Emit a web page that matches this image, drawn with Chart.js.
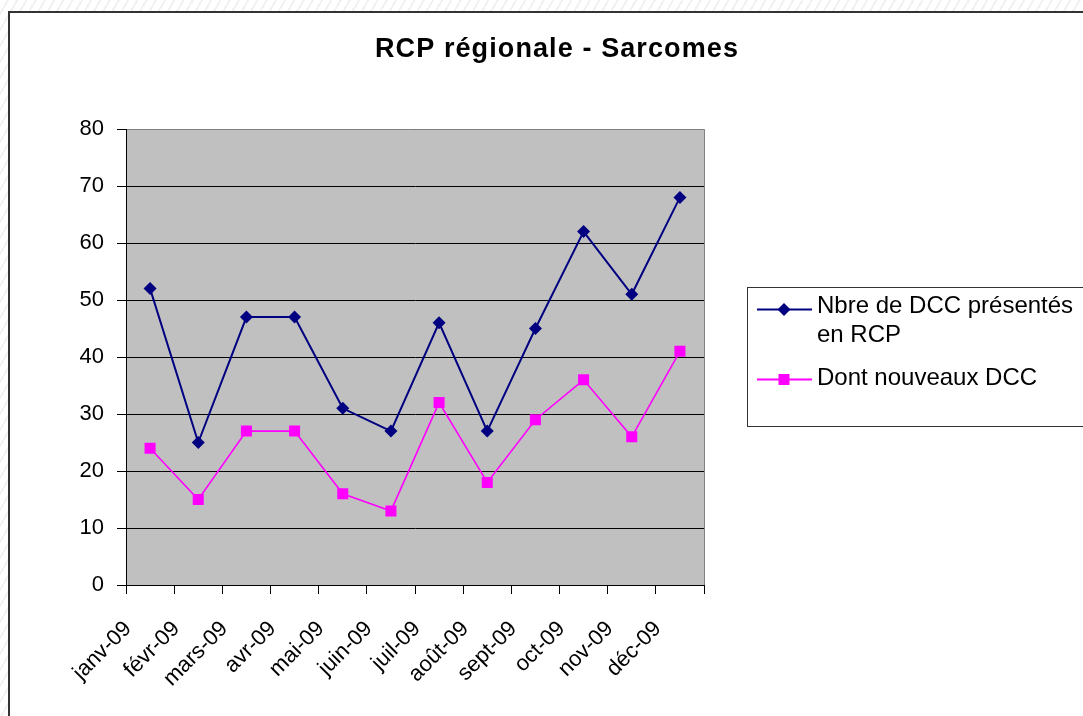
<!DOCTYPE html>
<html>
<head>
<meta charset="utf-8">
<script src="https://cdn.jsdelivr.net/npm/chart.js@4/dist/chart.umd.min.js"></script>
<style>
    body {
        margin: 0;
        background: repeating-linear-gradient(120deg, #ffffff 0px, #ffffff 6px, #f1f1f1 6px, #f1f1f1 8px);
    }
    canvas { display: block; }
</style>
</head>
<body>
<canvas id="rcpChart" width="1083" height="716"></canvas>
<script>
// values
const months = ["janv-09", "févr-09", "mars-09", "avr-09", "mai-09", "juin-09",
                "juil-09", "août-09", "sept-09", "oct-09", "nov-09", "déc-09"];
const dccPresentes = [52, 25, 47, 47, 31, 27, 46, 27, 45, 62, 51, 68];
const nouveauxDcc = [24, 15, 27, 27, 16, 13, 32, 18, 29, 36, 26, 41];
const yTicks = [0, 10, 20, 30, 40, 50, 60, 70, 80];
const seriesNames = ["Nbre de DCC présentés en RCP", "Dont nouveaux DCC"];
const chartTitle = "RCP régionale - Sarcomes";

const FONT = "'Liberation Sans', Arial, sans-serif";

// frame, plot background, title and the excel style legend
const excelLook = {
    id: "excelLook",
    beforeDraw(chart) {
        const ctx = chart.ctx;
        const a = chart.chartArea;
        ctx.save();
        ctx.fillStyle = "#ffffff";
        ctx.fillRect(8, 11, chart.width, chart.height);
        ctx.strokeStyle = "#333333";
        ctx.lineWidth = 2;
        ctx.beginPath();
        ctx.moveTo(9, chart.height);
        ctx.lineTo(9, 12);
        ctx.lineTo(chart.width, 12);
        ctx.stroke();
        ctx.fillStyle = "#c0c0c0";
        ctx.fillRect(a.left, a.top, a.right - a.left, a.bottom - a.top);
        ctx.restore();
    },
    beforeDatasetsDraw(chart) {
        const ctx = chart.ctx;
        const a = chart.chartArea;
        ctx.save();
        ctx.strokeStyle = "#808080";
        ctx.lineWidth = 1;
        ctx.beginPath();
        ctx.moveTo(a.left + 1, a.top + 0.5);
        ctx.lineTo(a.right + 0.5, a.top + 0.5);
        ctx.lineTo(a.right + 0.5, a.bottom);
        ctx.stroke();
        ctx.restore();
    },
    afterDraw(chart) {
        const ctx = chart.ctx;
        ctx.save();
        // title
        ctx.font = "bold 27px " + FONT;
        ctx.letterSpacing = "1.1px";
        ctx.fillStyle = "#000000";
        ctx.textAlign = "center";
        ctx.textBaseline = "alphabetic";
        ctx.fillText(chartTitle, 557, 57);
        ctx.letterSpacing = "0px";

        // legend box
        ctx.strokeStyle = "#333333";
        ctx.lineWidth = 1;
        ctx.strokeRect(747.5, 287.5, 400, 139);

        ctx.font = "24px " + FONT;
        ctx.textAlign = "left";
        const rows = [{ y: 309.5, base: 313 }, { y: 379.5, base: 385 }];
        chart.data.datasets.forEach((ds, i) => {
            const r = rows[i];
            ctx.strokeStyle = ds.borderColor;
            ctx.lineWidth = 2;
            ctx.beginPath();
            ctx.moveTo(757, r.y);
            ctx.lineTo(812, r.y);
            ctx.stroke();
            ctx.fillStyle = ds.pointBackgroundColor;
            ctx.beginPath();
            if (ds.pointStyle === "rectRot") {
                ctx.moveTo(784 - 6.5, r.y);
                ctx.lineTo(784, r.y - 6.5);
                ctx.lineTo(784 + 6.5, r.y);
                ctx.lineTo(784, r.y + 6.5);
                ctx.closePath();
            } else {
                ctx.rect(784 - 5.5, r.y - 5.5, 11, 11);
            }
            ctx.fill();

            // simple word wrap
            ctx.fillStyle = "#000000";
            const words = ds.label.split(" ");
            let line = "";
            let lineY = r.base;
            words.forEach(w => {
                const test = line ? line + " " + w : w;
                if (ctx.measureText(test).width > 262 && line) {
                    ctx.fillText(line, 817, lineY);
                    line = w;
                    lineY += 28.5;
                } else {
                    line = test;
                }
            });
            ctx.fillText(line, 817, lineY);
        });
        ctx.restore();
    }
};

new Chart(document.getElementById("rcpChart"), {
    type: "line",
    data: {
        labels: months,
        datasets: [
            {
                label: seriesNames[0],
                data: dccPresentes,
                borderColor: "#000080",
                backgroundColor: "#000080",
                pointBackgroundColor: "#000080",
                pointBorderColor: "#000080",
                borderWidth: 2,
                pointStyle: "rectRot",
                pointRadius: 6.5,
                pointBorderWidth: 0,
                tension: 0
            },
            {
                label: seriesNames[1],
                data: nouveauxDcc,
                borderColor: "#ff00ff",
                backgroundColor: "#ff00ff",
                pointBackgroundColor: "#ff00ff",
                pointBorderColor: "#ff00ff",
                borderWidth: 1.6,
                pointStyle: "rect",
                pointRadius: 7.8,
                pointBorderWidth: 0,
                tension: 0
            }
        ]
    },
    options: {
        responsive: false,
        animation: false,
        devicePixelRatio: 1,
        layout: {
            padding: { left: 0, top: 129, right: 379, bottom: 0 }
        },
        plugins: {
            legend: { display: false },
            title: { display: false },
            tooltip: { enabled: false }
        },
        scales: {
            x: {
                offset: true,
                afterFit: (s) => { s.height = 131; },
                grid: {
                    offset: true,
                    drawOnChartArea: false,
                    color: "#000000",
                    tickLength: 9
                },
                border: { color: "#000000", width: 1 },
                ticks: {
                    color: "#000000",
                    font: { family: FONT, size: 22 },
                    minRotation: 45,
                    maxRotation: 45,
                    autoSkip: false,
                    labelOffset: -22,
                    padding: 22
                }
            },
            y: {
                min: 0,
                max: 80,
                afterFit: (s) => { s.width = 126; },
                afterBuildTicks: (s) => { s.ticks = yTicks.map(v => ({ value: v })); },
                grid: {
                    color: "#000000",
                    tickLength: 9
                },
                border: { color: "#000000", width: 1 },
                ticks: {
                    color: "#000000",
                    font: { family: FONT, size: 22 },
                    padding: 13
                }
            }
        }
    },
    plugins: [excelLook]
});
</script>
</body>
</html>
